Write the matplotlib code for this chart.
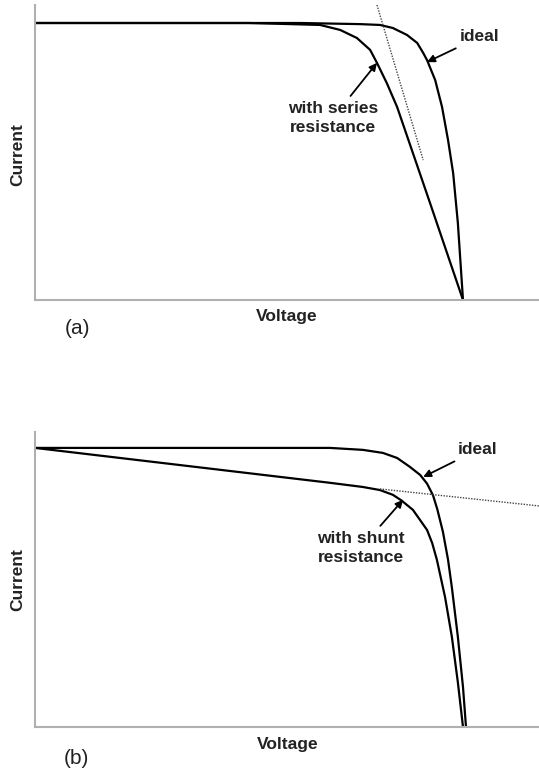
import matplotlib
matplotlib.use("Agg")
import matplotlib.pyplot as plt

plt.rcParams["font.family"] = ["Liberation Sans", "DejaVu Sans"]

# panel (a): voltage normalised to Voc, current normalised to Isc
a_ideal_v = [0.0, 0.62, 0.759, 0.806, 0.836, 0.869, 0.893, 0.907, 0.916, 0.935, 0.951, 0.965, 0.977, 0.988, 1.0]
a_ideal_i = [1.0, 1.0, 0.996, 0.993, 0.982, 0.957, 0.928, 0.892, 0.866, 0.794, 0.697, 0.578, 0.458, 0.278, 0.0]
a_series_v = [0.0, 0.50, 0.596, 0.666, 0.713, 0.752, 0.783, 0.799, 0.822, 0.846, 0.923, 1.0]
a_series_i = [1.0, 1.0, 0.996, 0.993, 0.975, 0.946, 0.903, 0.856, 0.783, 0.697, 0.35, 0.0]
a_tangent_v = [0.799, 0.907]
a_tangent_i = [1.065, 0.505]

# panel (b)
b_ideal_v = [0.0, 0.689, 0.766, 0.813, 0.846, 0.876, 0.900, 0.916, 0.930, 0.940, 0.953, 0.965, 0.974, 0.988, 1.0, 1.007]
b_ideal_i = [1.0, 1.0, 0.993, 0.982, 0.964, 0.932, 0.903, 0.872, 0.830, 0.78, 0.70, 0.60, 0.50, 0.323, 0.143, 0.0]
b_shunt_v = [0.0, 0.689, 0.766, 0.806, 0.836, 0.856, 0.883, 0.916, 0.928, 0.939, 0.958, 0.974, 0.988, 1.0]
b_shunt_i = [1.0, 0.875, 0.860, 0.849, 0.832, 0.812, 0.778, 0.706, 0.659, 0.599, 0.466, 0.323, 0.16, 0.0]
b_tangent_v = [0.806, 1.178]
b_tangent_i = [0.853, 0.792]

W, H = 539, 776
fig = plt.figure(figsize=(W / 100, H / 100), dpi=100)


def px_axes(left, top, right, bottom):
    return fig.add_axes([left / W, 1 - bottom / H, (right - left) / W, (bottom - top) / H])


def style(ax, ytop):
    ax.set_xlim(0, 504 / 428)
    ax.set_ylim(0, ytop)
    for s in ["top", "right"]:
        ax.spines[s].set_visible(False)
    for s in ["left", "bottom"]:
        ax.spines[s].set_color("#b0b0b0")
        ax.spines[s].set_linewidth(1.5)
    ax.set_xticks([])
    ax.set_yticks([])


arrow = dict(arrowstyle="-|>", color="black", lw=1.3, mutation_scale=11, shrinkA=2, shrinkB=0)
lab = dict(fontsize=12.5, fontweight="bold", color="#222222")

ax1 = px_axes(35, 5, 539, 300)
style(ax1, 1.065)
ax1.plot(a_ideal_v, a_ideal_i, color="black", lw=1.6)
ax1.plot(a_series_v, a_series_i, color="black", lw=1.6)
ax1.plot(a_tangent_v, a_tangent_i, color="#444444", lw=1.0, ls=(0, (1, 1)))
ax1.annotate("ideal", xy=(0.916, 0.859), xytext=(0.993, 0.95), ha="left", va="center",
             arrowprops=arrow, **lab)
ax1.annotate("with series\nresistance", xy=(0.799, 0.856), xytext=(0.696, 0.657),
             ha="center", va="center", linespacing=1.35, arrowprops=arrow, **lab)

ax2 = px_axes(35, 432, 539, 727)
style(ax2, 1.057)
ax2.plot(b_ideal_v, b_ideal_i, color="black", lw=1.6)
ax2.plot(b_shunt_v, b_shunt_i, color="black", lw=1.6)
ax2.plot(b_tangent_v, b_tangent_i, color="#444444", lw=1.0, ls=(0, (1, 1)))
ax2.annotate("ideal", xy=(0.907, 0.896), xytext=(0.988, 0.993), ha="left", va="center",
             arrowprops=arrow, **lab)
ax2.annotate("with shunt\nresistance", xy=(0.860, 0.814), xytext=(0.762, 0.642),
             ha="center", va="center", linespacing=1.35, arrowprops=arrow, **lab)

axl = dict(fontsize=12.5, fontweight="bold", color="#222222", ha="center", va="center")
fig.text(287 / W, 1 - 317 / H, "Voltage", **axl)
fig.text(288 / W, 1 - 744 / H, "Voltage", **axl)
fig.text(18 / W, 1 - 155 / H, "Current", rotation=90, **axl)
fig.text(18 / W, 1 - 580 / H, "Current", rotation=90, **axl)
fig.text(78 / W, 1 - 328 / H, "(a)", fontsize=15, ha="center", va="center", color="#222222")
fig.text(76 / W, 1 - 758 / H, "(b)", fontsize=15, ha="center", va="center", color="#222222")

fig.savefig("out.png", dpi=100)
